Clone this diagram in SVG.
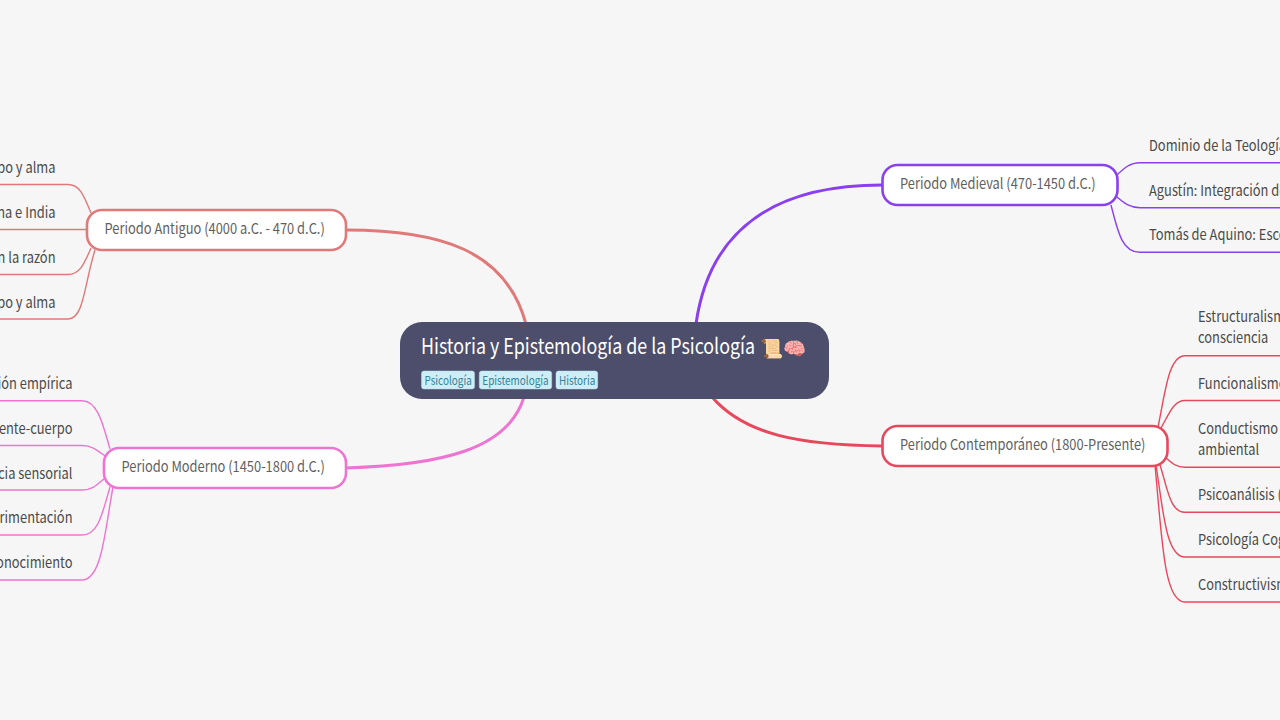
<svg xmlns="http://www.w3.org/2000/svg" width="1280" height="720" viewBox="0 0 1280 720">
<style>
text{font-family:"Noto Sans CJK SC","Noto Sans",sans-serif;}
.n{fill:#fff;stroke-width:2.6;}
.t,.l,.tt,.h{transform-box:fill-box;transform-origin:0 0;transform:scaleX(.858);}
.e{transform-origin:100% 0;text-anchor:end;}
.t{font-size:15px;fill:#5f5f5f;}
.l{font-size:15px;fill:#4a4a4a;}
.h{font-size:21.500px;fill:#fff;transform:scaleX(.83);}
.c{fill:none;stroke-width:3;stroke-linecap:round;}
.s{fill:none;stroke-width:1.4;}
.tag{fill:#cdeef6;stroke:#b5dce8;stroke-width:.5;}
.tt{font-size:12px;fill:#33829a;transform:scaleX(.83);}
.a{stroke:#e07a7a;}.m{stroke:#ee74d2;}.d{stroke:#8a3ff0;}.k{stroke:#e8485c;}
</style>
<rect width="1280" height="720" fill="#f6f6f6"/>
<g id="connectors">
<path class="c a" d="M346 230C440 230 506 250 526 324"/>
<path class="c m" d="M346 468C440 465 508 450 524 397"/>
<path class="c d" d="M882 185C780 185 710 225 696 324"/>
<path class="c k" d="M882 446C800 445 745 435 712 397"/>
<path class="s a" d="M0 184.500H68C80 184.500 84 196 91 213"/>
<path class="s a" d="M0 229.500H87"/>
<path class="s a" d="M0 274.500H68C80 274.500 84 264 91 248"/>
<path class="s a" d="M0 319H68C84 319 84 285 95 250"/>
<path class="s m" d="M0 400.700H82C98 400.700 103 425 110 449"/>
<path class="s m" d="M0 445.500H82C92 445.500 97 450 105 456"/>
<path class="s m" d="M0 490H82C92 490 97 485 105 478"/>
<path class="s m" d="M0 535H82C98 535 102 515 110 487"/>
<path class="s m" d="M0 580H82C102 580 105 530 113 487"/>
<path class="s d" d="M1280 162.700H1140C1130 162.700 1124 168 1117 175"/>
<path class="s d" d="M1280 207.700H1140C1130 207.700 1124 203 1117 197"/>
<path class="s d" d="M1280 252.300H1140C1122 252.300 1118 232 1111 205"/>
<path class="s k" d="M1280 355.700H1185C1168 355.700 1165 395 1158 427"/>
<path class="s k" d="M1280 400.500H1185C1174 400.500 1170 412 1161 428"/>
<path class="s k" d="M1280 467.300H1185C1176 467.300 1172 463 1165 457"/>
<path class="s k" d="M1280 512.300H1185C1170 512.300 1168 490 1160 465"/>
<path class="s k" d="M1280 557H1185C1166 557 1163 510 1156 465"/>
<path class="s k" d="M1280 602H1185C1164 602 1162 540 1155 465"/>
</g>
<g id="root">
<rect x="400" y="322" width="429" height="77" rx="22" fill="#4c4e6b"/>
<text class="h" x="421" y="354">Historia y Epistemología de la Psicología</text>
<text x="759.500" y="354.500" font-size="18.500">📜🧠</text>
<rect class="tag" x="421.500" y="371" width="53" height="18" rx="2.500"/>
<text class="tt" x="424.500" y="385">Psicología</text>
<rect class="tag" x="479.300" y="371" width="72.400" height="18" rx="2.500"/>
<text class="tt" x="482.300" y="385">Epistemología</text>
<rect class="tag" x="556" y="371" width="41.700" height="18" rx="2.500"/>
<text class="tt" x="559" y="385">Historia</text>
</g>
<g id="antiguo">
<rect class="n a" x="87" y="210" width="259" height="40" rx="15"/>
<text class="t" x="104.500" y="234.500">Periodo Antiguo (4000 a.C. - 470 d.C.)</text>
<text class="l e" x="55.500" y="173.500">erpo y alma</text>
<text class="l e" x="55.500" y="218">hina e India</text>
<text class="l e" x="55.500" y="263">en la razón</text>
<text class="l e" x="55.500" y="308">erpo y alma</text>
</g>
<g id="moderno">
<rect class="n m" x="104" y="448" width="242" height="40" rx="15"/>
<text class="t" x="121.500" y="472.500">Periodo Moderno (1450-1800 d.C.)</text>
<text class="l e" x="72.500" y="389.500">ción empírica</text>
<text class="l e" x="72.500" y="434">mente-cuerpo</text>
<text class="l e" x="72.500" y="479">ncia sensorial</text>
<text class="l e" x="72.500" y="523.500">erimentación</text>
<text class="l e" x="72.500" y="568.500">conocimiento</text>
</g>
<g id="medieval">
<rect class="n d" x="882.500" y="165" width="235" height="40" rx="15"/>
<text class="t" x="900" y="189.500">Periodo Medieval (470-1450 d.C.)</text>
<text class="l" x="1149" y="151">Dominio de la Teología</text>
<text class="l" x="1149" y="196">Agustín: Integración de</text>
<text class="l" x="1149" y="240.500">Tomás de Aquino: Esco</text>
</g>
<g id="contemporaneo">
<rect class="n k" x="882.500" y="426" width="285" height="40" rx="15"/>
<text class="t" x="900" y="450">Periodo Contemporáneo (1800-Presente)</text>
<text class="l" x="1198" y="322.500">Estructuralismo</text>
<text class="l" x="1198" y="343.500">consciencia</text>
<text class="l" x="1198" y="389.500">Funcionalismo</text>
<text class="l" x="1198" y="434.500">Conductismo</text>
<text class="l" x="1198" y="455">ambiental</text>
<text class="l" x="1198" y="500.500">Psicoanálisis (</text>
<text class="l" x="1198" y="545.500">Psicología Cog</text>
<text class="l" x="1198" y="590.500">Constructivismo</text>
</g>
</svg>
